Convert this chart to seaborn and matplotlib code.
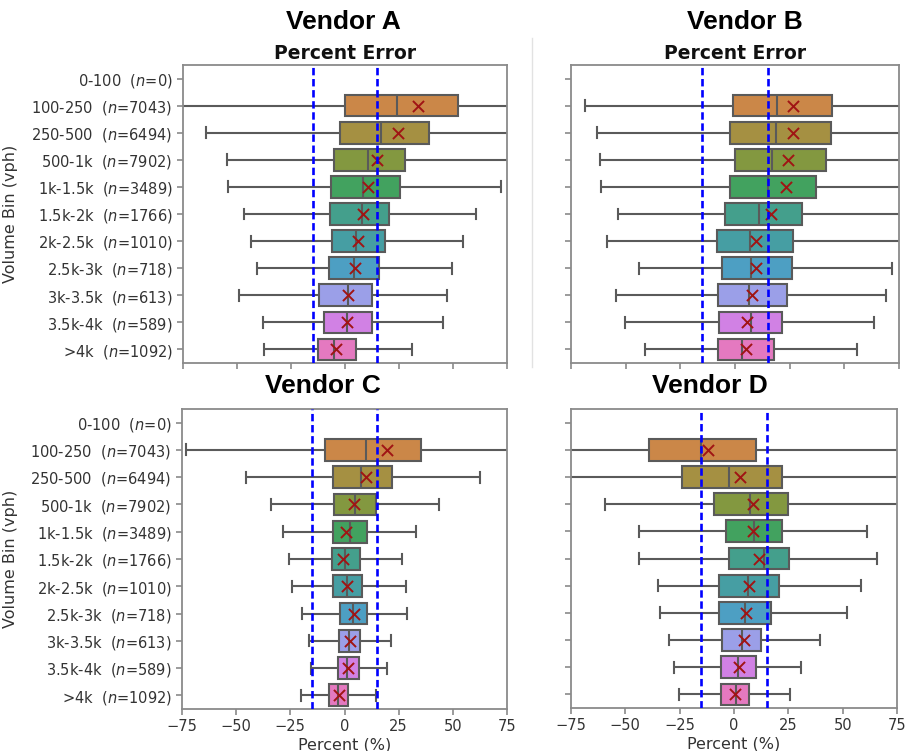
import numpy as np
import pandas as pd
import matplotlib
matplotlib.use("Agg")
import matplotlib.pyplot as plt
from matplotlib.lines import Line2D
import seaborn as sns

plt.rcParams["font.family"] = ["DejaVu Sans"]
plt.rcParams["mathtext.fontset"] = "dejavusans"

nan = np.nan

bins = ["0-100", "100-250", "250-500", "500-1k", "1k-1.5k", "1.5k-2k",
        "2k-2.5k", "2.5k-3k", "3k-3.5k", "3.5k-4k", ">4k"]
counts = [0, 7043, 6494, 7902, 3489, 1766, 1010, 718, 613, 589, 1092]
vendors = ["Vendor A", "Vendor B", "Vendor C", "Vendor D"]
xticks = [-75, -50, -25, 0, 25, 50, 75]
tolerance = 15

# Vendor A: whisker low, Q1, median, Q3, whisker high, mean  (±100 = beyond the axis)
a_low = [nan, -100, -64.3, -54.5, -54.2, -46.8, -43.7, -40.6, -49.1, -37.8, -37.7]
a_q1 = [nan, 0.0, -2.4, -5.2, -6.6, -7.0, -6.2, -7.6, -12.1, -9.9, -12.3]
a_med = [nan, 24.0, 16.6, 10.6, 8.4, 7.9, 5.3, 4.1, 1.3, 1.0, -5.0]
a_q3 = [nan, 52.2, 39.0, 27.8, 25.5, 20.4, 18.7, 15.7, 12.4, 12.4, 5.0]
a_high = [nan, 100, 100, 100, 72.1, 60.8, 54.8, 49.7, 47.1, 45.3, 31.1]
a_mean = [nan, 34.0, 24.6, 14.9, 10.7, 8.4, 6.2, 4.4, 1.2, 0.8, -4.2]

# Vendor B
b_low = [nan, -68.4, -63.0, -61.8, -61.1, -53.4, -58.5, -43.9, -54.4, -50.1, -41.2]
b_q1 = [nan, -1.1, -2.1, -0.2, -2.5, -4.8, -8.4, -5.9, -8.0, -7.5, -7.7]
b_med = [nan, 19.3, 18.7, 16.7, 15.2, 11.0, 6.8, 7.1, 6.3, 7.1, 3.1]
b_q3 = [nan, 44.5, 44.1, 41.5, 37.2, 30.8, 26.6, 26.0, 23.7, 21.5, 18.0]
b_high = [nan, 100, 100, 100, 100, 100, 100, 72.0, 68.9, 63.4, 56.0]
b_mean = [nan, 26.6, 26.7, 24.4, 23.1, 16.4, 9.4, 9.8, 7.7, 5.6, 5.1]

# Vendor C
c_low = [nan, -73.2, -45.6, -33.8, -28.4, -25.7, -24.4, -19.4, -16.6, -15.5, -20.1]
c_q1 = [nan, -9.1, -5.4, -4.9, -5.2, -6.0, -5.5, -2.2, -2.6, -3.1, -7.2]
c_med = [nan, 10.1, 7.8, 4.8, 2.6, 0.3, 1.2, 3.7, 2.0, 1.1, -2.8]
c_q3 = [nan, 35.2, 22.0, 14.4, 10.3, 7.1, 8.0, 10.3, 7.2, 6.5, 1.8]
c_high = [nan, 100, 62.7, 43.6, 33.2, 26.6, 28.3, 28.9, 21.5, 19.7, 14.6]
c_mean = [nan, 19.7, 10.1, 4.6, 0.9, -0.6, 1.1, 4.6, 2.5, 1.4, -2.5]

# Vendor D
d_low = [nan, -100, -100, -59.4, -43.5, -43.9, -34.8, -33.9, -29.7, -27.6, -25.2]
d_q1 = [nan, -38.9, -24.1, -9.2, -3.9, -2.4, -6.7, -7.1, -5.3, -5.8, -6.2]
d_med = [nan, -15.2, -2.3, 7.3, 9.4, 13.6, 6.5, 5.0, 3.8, 1.8, 0.9]
d_q3 = [nan, 10.3, 22.3, 24.7, 22.3, 25.3, 20.6, 16.8, 12.6, 10.0, 6.7]
d_high = [nan, 100, 100, 100, 61.2, 65.9, 58.5, 51.8, 39.7, 30.8, 25.9]
d_mean = [nan, -11.8, 2.7, 8.8, 8.9, 11.4, 7.0, 5.6, 4.7, 2.1, 0.5]

stats = {
    "Vendor A": (a_low, a_q1, a_med, a_q3, a_high, a_mean),
    "Vendor B": (b_low, b_q1, b_med, b_q3, b_high, b_mean),
    "Vendor C": (c_low, c_q1, c_med, c_q3, c_high, c_mean),
    "Vendor D": (d_low, d_q1, d_med, d_q3, d_high, d_mean),
}

labels = [f"{b}  ($n$={c})" for b, c in zip(bins, counts)]
palette = sns.husl_palette(len(bins))

fig = plt.figure(figsize=(9.08, 7.51), dpi=100)

positions = {
    "Vendor A": [183 / 908, 1 - 363 / 751, 324 / 908, 298 / 751],
    "Vendor B": [571 / 908, 1 - 363 / 751, 328 / 908, 298 / 751],
    "Vendor C": [182 / 908, 1 - 709 / 751, 325 / 908, 300 / 751],
    "Vendor D": [571 / 908, 1 - 708 / 751, 326 / 908, 299 / 751],
}
title_pos = {
    "Vendor A": (343, 22), "Vendor B": (745, 22),
    "Vendor C": (323, 386), "Vendor D": (710, 386),
}

line_gray = "#5a5a5a"
txt = "#333333"

for v in vendors:
    low, q1, med, q3, high, mean = stats[v]
    rows = []
    for lab, lo, a, m, b, hi in zip(labels, low, q1, med, q3, high):
        if np.isnan(m):
            continue
        for val in (lo, a, m, b, hi):
            rows.append({"label": lab, "value": val})
    df = pd.DataFrame(rows)
    mdf = pd.DataFrame({"label": labels, "mean": mean}).dropna()

    ax = fig.add_axes(positions[v])
    sns.boxplot(data=df, x="value", y="label", order=labels, hue="label",
                hue_order=labels, palette=palette, whis=(0, 100), width=0.8,
                linecolor=line_gray, linewidth=1.5, saturation=0.75,
                legend=False, ax=ax)
    sns.stripplot(data=mdf, x="mean", y="label", order=labels, jitter=False,
                  marker="x", color="#a01414", size=8, linewidth=1.4,
                  zorder=5, ax=ax)
    for t in (-tolerance, tolerance):
        ax.axvline(t, color="#0000ff", ls=(0, (2.8, 1.4)), lw=1.9, zorder=6)

    ax.set_xlim(-75, 75)
    ax.set_ylim(len(bins) - 0.5, -0.5)
    ax.set_xticks(xticks)
    for s in ax.spines.values():
        s.set_color("#8a8a8a")
        s.set_linewidth(1.3)
    ax.tick_params(colors="#8a8a8a", labelcolor=txt, labelsize=10.5,
                   length=4, width=1.2)

    left = v in ("Vendor A", "Vendor C")
    bottom = v in ("Vendor C", "Vendor D")
    if left:
        ax.set_ylabel("Volume Bin (vph)", fontsize=11.5, color=txt)
        ax.yaxis.set_label_coords((18 - positions[v][0] * 908) / (positions[v][2] * 908), 0.5)
    else:
        ax.set_ylabel("")
        ax.set_yticklabels([])
    if bottom:
        ax.set_xlabel("Percent (%)", fontsize=11.5, color=txt, labelpad=2)
    else:
        ax.set_xlabel("")
        ax.set_xticklabels([])
        ax.set_title("Percent Error", fontsize=13.5, fontweight="bold",
                     color="#111111", pad=4)

    tx, ty = title_pos[v]
    fig.text(tx / 908, 1 - ty / 751, v, ha="center", va="center",
             fontsize=19, fontweight="bold", family="Liberation Sans",
             color="black")

fig.add_artist(Line2D([532 / 908, 532 / 908], [1 - 38 / 751, 1 - 367 / 751],
                      transform=fig.transFigure, color="#e2e2e2", lw=1))

fig.savefig("out.png", dpi=100)
